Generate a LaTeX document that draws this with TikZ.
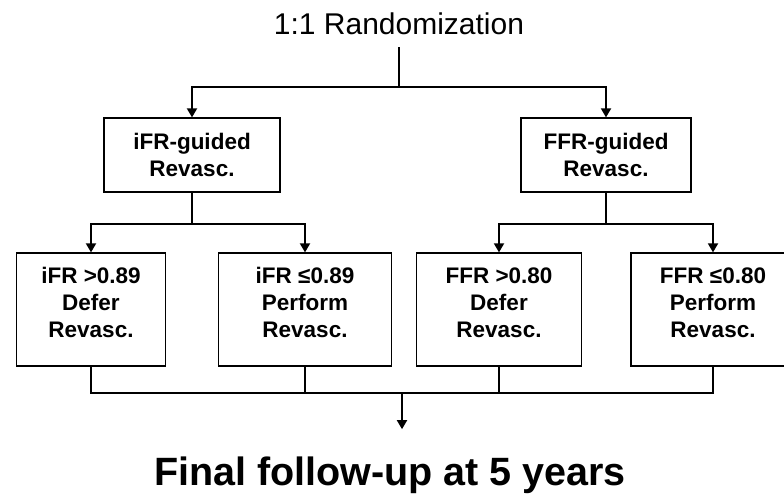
\documentclass[tikz,border=0pt]{standalone}
\usepackage{fontspec}
\setmainfont{Liberation Sans}
\usetikzlibrary{arrows.meta,calc}
\begin{document}
\begin{tikzpicture}[
  x=1pt, y=1pt,
  level 1/.style={
    sibling distance = 414pt,
    level distance = 131pt,
    edge from parent path={(\tikzparentnode.south) -- ++(0,-40pt) -| (\tikzchildnode.north)}
  },
  level 2/.style={
    sibling distance = 214pt,
    level distance = 154.5pt,
    edge from parent path={(\tikzparentnode.south) -- ++(0,-31pt) -| (\tikzchildnode.north)}
  },
  title/.style={
    inner sep=0pt,
    outer ysep=12pt,
    anchor=base,
    font=\fontsize{30}{36}\selectfont
  },
  box/.style={
    draw,
    line width=1.8pt,
    color=black,
    fill=white,
    align=center,
    minimum height=74pt,
    font=\fontsize{22.5}{27}\selectfont\bfseries
  },
  box_leaf/.style={
    box,
    minimum height=113pt,
    text depth=15pt
  },
  connector_line/.style={
    draw,
    line width=1.8pt,
    color=black
  },
  connector_arrow/.style={
    connector_line,
    -{Triangle[width=10pt,length=9pt]}
  },
  edge from parent/.style={connector_arrow},
  final/.style={
    anchor=base,
    font=\fontsize{39.5}{47}\selectfont\bfseries
  }
]%
\useasboundingbox (0,0) rectangle (784,-497);
\node [title] (random) at (399,-35) {1:1 Randomization}
child {
  node [box, minimum width=176pt] (ifrguided) {iFR-guided\\Revasc.}
  child {node [box_leaf, minimum width=149pt, xshift=6pt] (ifrdefer) {iFR >0.89\\Defer\\Revasc.}}
  child {node [box_leaf, minimum width=173pt, xshift=6pt] (ifrperform) {iFR ≤0.89\\Perform\\Revasc.}}
}
child {
  node [box, minimum width=170pt] (ffrguided) {FFR-guided\\Revasc.}
  child {node [box_leaf, minimum width=165pt] (ffrdefer) {FFR >0.80\\Defer\\Revasc.}}
  child {node [box_leaf, minimum width=164pt] (ffrperform) {FFR ≤0.80\\Perform\\Revasc.}}
};
% joining the four arms
\draw [connector_line] (ifrdefer.south) -- ++(0,-26pt) coordinate (barleft) -| (ffrperform.south);
\draw [connector_line] (ifrperform.south) -- (ifrperform.south |- barleft);
\draw [connector_line] (ffrdefer.south) -- (ffrdefer.south |- barleft);
\coordinate (merge) at ($(barleft)!.5!(barleft -| ffrperform.south)$);
\node [final] (followup) at (390,-485) {Final follow-up at 5 years};
\draw [connector_arrow] (merge) -- ++(0,-36pt);
\end{tikzpicture}
\end{document}
